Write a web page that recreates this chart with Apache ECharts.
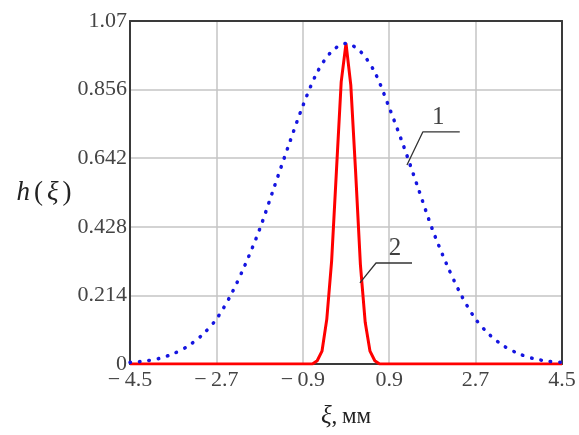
<!DOCTYPE html>
<html><head><meta charset="utf-8">
<script src="https://cdn.jsdelivr.net/npm/echarts@6/dist/echarts.min.js"></script>
<style>html,body{margin:0;padding:0;background:#fff}#c{width:579px;height:435px}</style>
</head><body><div id="c"></div>
<script>
// Curve 1 (blue dotted)
const blueX = [-4.5,-4.2,-3.9,-3.6,-3.3,-3.0,-2.7,-2.4,-2.1,-1.8,-1.5,-1.2,-0.9,-0.6,-0.3,0,0.3,0.6,0.9,1.2,1.5,1.8,2.1,2.4,2.7,3.0,3.3,3.6,3.9,4.2,4.5];
const blueY = [0.005,0.009,0.017,0.032,0.055,0.09,0.14,0.215,0.31,0.42,0.55,0.68,0.805,0.91,0.975,1.0,0.975,0.91,0.8,0.68,0.55,0.42,0.31,0.215,0.14,0.09,0.055,0.032,0.017,0.009,0.005];
// Curve 2 (red solid)
const redX = [-4.5,-0.7,-0.6,-0.5,-0.4,-0.3,-0.2,-0.1,0,0.1,0.2,0.3,0.4,0.5,0.6,0.7,4.5];
const redY = [0,0,0.01,0.04,0.14,0.32,0.6,0.88,1.0,0.87,0.6,0.31,0.13,0.04,0.01,0,0];
// Ticks
const xTickLabels = ["\u2212\u20094.5","\u2212\u20092.7","\u2212\u20090.9","0.9","2.7","4.5"];
const yTickLabels = ["0","0.214","0.428","0.642","0.856","1.07"];
// Curve annotations
const curveLabels = ["1","2"];
const curveLabelX = [1.92, 1.02];
const curveLabelY = [0.77, 0.362];
const leader1X = [1.27, 1.60, 2.37];
const leader1Y = [0.621, 0.724, 0.724];
const leader2X = [0.29, 0.625, 1.375];
const leader2Y = [0.253, 0.315, 0.315];

const zip = (a, b) => a.map((v, i) => [v, b[i]]);
const serif = 'Liberation Serif';
const frameLine = {show: true, onZero: false, lineStyle: {color: '#3a3a3a', width: 2}};
const chart = echarts.init(document.getElementById('c'), null, {renderer: 'canvas'});
chart.setOption({
  backgroundColor: '#fff',
  animation: false,
  grid: {left: 130, top: 21, right: 17, bottom: 71},
  xAxis: [{
    type: 'value', min: -4.5, max: 4.5, interval: 1.8,
    axisLine: frameLine,
    axisTick: {show: false},
    splitLine: {show: true, lineStyle: {color: '#c4c4c4', width: 1.5}},
    axisLabel: {
      fontFamily: serif, fontSize: 22, color: '#444', margin: 5,
      formatter: (v) => xTickLabels[Math.round((v + 4.5) / 1.8)]
    },
    name: '{i|\u03be}{n|,\u2009\u043c\u043c}', nameLocation: 'middle', nameGap: 40,
    nameTextStyle: {
      rich: {
        i: {fontFamily: serif, fontStyle: 'italic', fontSize: 25, color: '#222'},
        n: {fontFamily: serif, fontSize: 23, color: '#222'}
      }
    }
  }, {
    type: 'value', position: 'top', min: -4.5, max: 4.5, interval: 1.8,
    axisLine: frameLine, axisTick: {show: false}, axisLabel: {show: false}, splitLine: {show: false}
  }],
  yAxis: [{
    type: 'value', min: 0, max: 1.07, interval: 0.214,
    axisLine: frameLine,
    axisTick: {show: false},
    splitLine: {show: true, lineStyle: {color: '#c4c4c4', width: 1.5}},
    axisLabel: {
      fontFamily: serif, fontSize: 22, color: '#444', margin: 3, padding: [6, 0, 0, 0],
      formatter: (v) => yTickLabels[Math.round(v / 0.214)]
    },
    name: '{i|h}{n|(}{i|\u03be}{n|)}', nameLocation: 'middle', nameRotate: 0, nameGap: 56,
    nameTextStyle: {
      rich: {
        i: {fontFamily: serif, fontStyle: 'italic', fontSize: 27, color: '#222', padding: [0, 2, 0, 2]},
        n: {fontFamily: serif, fontSize: 27, color: '#222', padding: [0, 2, 0, 2]}
      }
    }
  }, {
    type: 'value', position: 'right', min: 0, max: 1.07, interval: 0.214,
    axisLine: frameLine, axisTick: {show: false}, axisLabel: {show: false}, splitLine: {show: false}
  }],
  series: [
    {
      type: 'line', data: zip(redX, redY), showSymbol: false, symbol: 'none', z: 3,
      lineStyle: {color: '#ff0000', width: 3}
    },
    {
      type: 'line', data: zip(blueX, blueY), showSymbol: false, symbol: 'none', smooth: 0.3, z: 4,
      lineStyle: {color: '#1515e0', width: 3.5, type: [0.5, 9], cap: 'round'}
    },
    {
      type: 'line', data: zip(leader1X, leader1Y), symbol: 'none', silent: true, z: 5,
      lineStyle: {color: '#333', width: 1.3}
    },
    {
      type: 'line', data: zip(leader2X, leader2Y), symbol: 'none', silent: true, z: 5,
      lineStyle: {color: '#333', width: 1.3}
    },
    {
      type: 'scatter', symbolSize: 0, silent: true, z: 6,
      data: curveLabels.map((t, i) => ({name: t, value: [curveLabelX[i], curveLabelY[i]]})),
      label: {show: true, position: 'inside', formatter: (p) => p.name, fontFamily: serif, fontSize: 25, color: '#111'}
    }
  ]
});
</script></body></html>
